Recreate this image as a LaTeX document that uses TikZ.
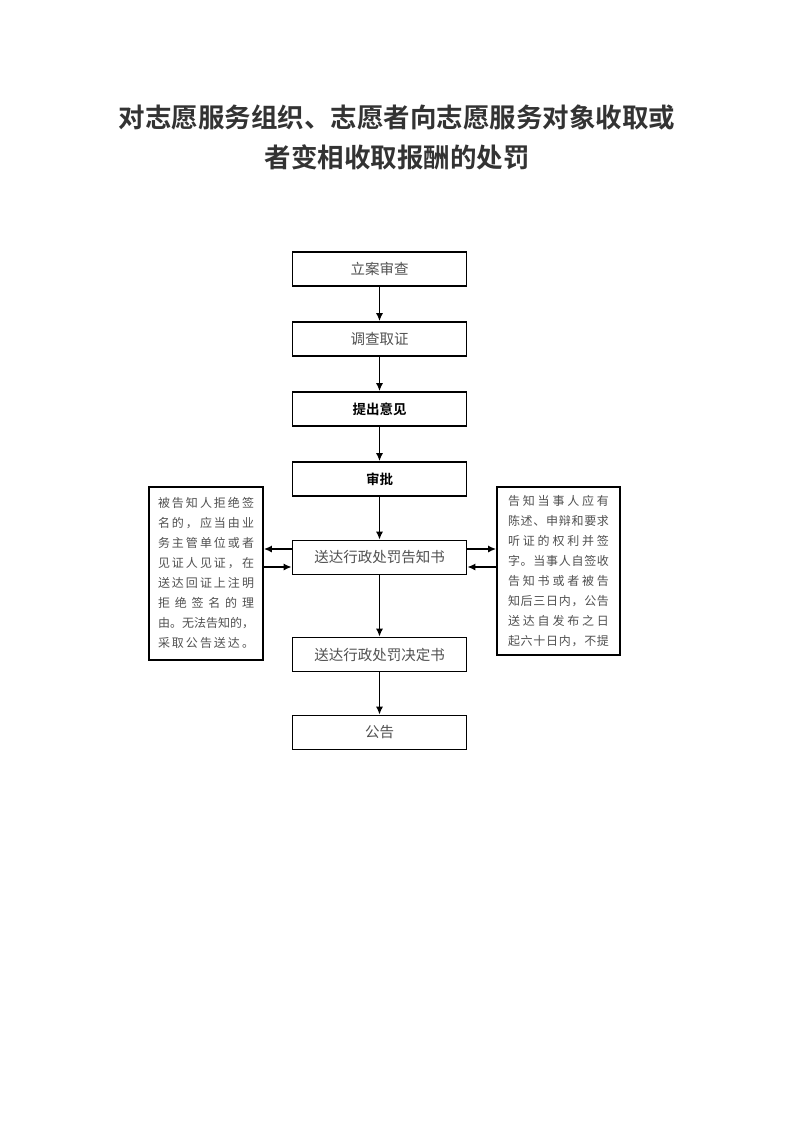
\documentclass[tikz,border=0pt]{standalone}
\usepackage{fontspec}
\setmainfont{Noto Sans CJK SC}
\newfontfamily\cjkbold{Noto Sans CJK SC Bold}
\usetikzlibrary{arrows.meta}
\definecolor{titlegray}{HTML}{333333}
\definecolor{textgray}{HTML}{505050}
% spread the characters of one line over a fixed width
\def\spreadfirst#1{#1\spreadrest}
\def\spreadrest#1{\ifx#1\relax\else\hfil#1\expandafter\spreadrest\fi}
\newcommand{\sline}[2]{\makebox[#1][s]{\spreadfirst#2\relax}\\}

\begin{document}
\begin{tikzpicture}[x=1pt,y=-1pt,
    stepbox/.style={draw=black, line width=1.6pt, minimum width=174pt, minimum height=34pt, inner sep=0pt, font=\fontsize{14.5}{16}\selectfont, text=textgray},
    boldbox/.style={stepbox, font=\cjkbold\fontsize{13.5}{16}\selectfont, text=black},
    notebox/.style={draw=black, line width=1.6pt, inner sep=0pt, align=left, font=\fontsize{12}{20}\selectfont, text=textgray},
    flow/.style={line width=1.6pt, -{Latex[length=8pt,width=7pt]}}]
    \useasboundingbox (0,0) rectangle (793,1122);
    % Title
    \node[font=\cjkbold\fontsize{26.5}{30}\selectfont, text=titlegray] (title1) at (397,117) {对志愿服务组织、志愿者向志愿服务对象收取或};
    \node[font=\cjkbold\fontsize{26.5}{30}\selectfont, text=titlegray] (title2) at (397,157) {者变相收取报酬的处罚};
    % Main steps
    \node[stepbox] (filing) at (379.5,269) {立案审查};
    \node[stepbox] (investigate) at (379.5,339) {调查取证};
    \node[boldbox] (opinion) at (379.5,409) {提出意见};
    \node[boldbox] (approve) at (379.5,479) {审批};
    \node[stepbox] (notice) at (379.5,557.5) {送达行政处罚告知书};
    \node[stepbox] (decision) at (379.5,654.5) {送达行政处罚决定书};
    \node[stepbox] (announce) at (379.5,732.5) {公告};
    % Side notes
    \node[notebox, minimum width=114pt, minimum height=173pt] (leftnote) at (206,573.5) {%
      \begin{tabular}{@{}l@{}}
      \sline{96pt}{被告知人拒绝签}
      \sline{96pt}{名的，应当由业}
      \sline{96pt}{务主管单位或者}
      \sline{96pt}{见证人见证，在}
      \sline{96pt}{送达回证上注明}
      \sline{96pt}{拒绝签名的理}
      \sline{96pt}{由。无法告知的，}
      \sline{96pt}{采取公告送达。}
      \end{tabular}};
    \node[notebox, minimum width=123pt, minimum height=168pt] (rightnote) at (558.5,571) {%
      \begin{tabular}{@{}l@{}}
      \sline{101pt}{告知当事人应有}
      \sline{101pt}{陈述、申辩和要求}
      \sline{101pt}{听证的权利并签}
      \sline{101pt}{字。当事人自签收}
      \sline{101pt}{告知书或者被告}
      \sline{101pt}{知后三日内，公告}
      \sline{101pt}{送达自发布之日}
      \sline{101pt}{起六十日内，不提}
      \end{tabular}};
    % Flow arrows
    \draw[flow] (filing) -- (investigate);
    \draw[flow] (investigate) -- (opinion);
    \draw[flow] (opinion) -- (approve);
    \draw[flow] (approve) -- (notice);
    \draw[flow] (notice) -- (decision);
    \draw[flow] (decision) -- (announce);
    % Side arrows
    \draw[flow] ([yshift=8.5pt]notice.west) -- ([yshift=8.5pt]notice.west -| leftnote.east);
    \draw[flow] ([yshift=-9.5pt]notice.west -| leftnote.east) -- ([yshift=-9.5pt]notice.west);
    \draw[flow] ([yshift=8.5pt]notice.east) -- ([yshift=8.5pt]notice.east -| rightnote.west);
    \draw[flow] ([yshift=-9.5pt]notice.east -| rightnote.west) -- ([yshift=-9.5pt]notice.east);
\end{tikzpicture}
\end{document}
